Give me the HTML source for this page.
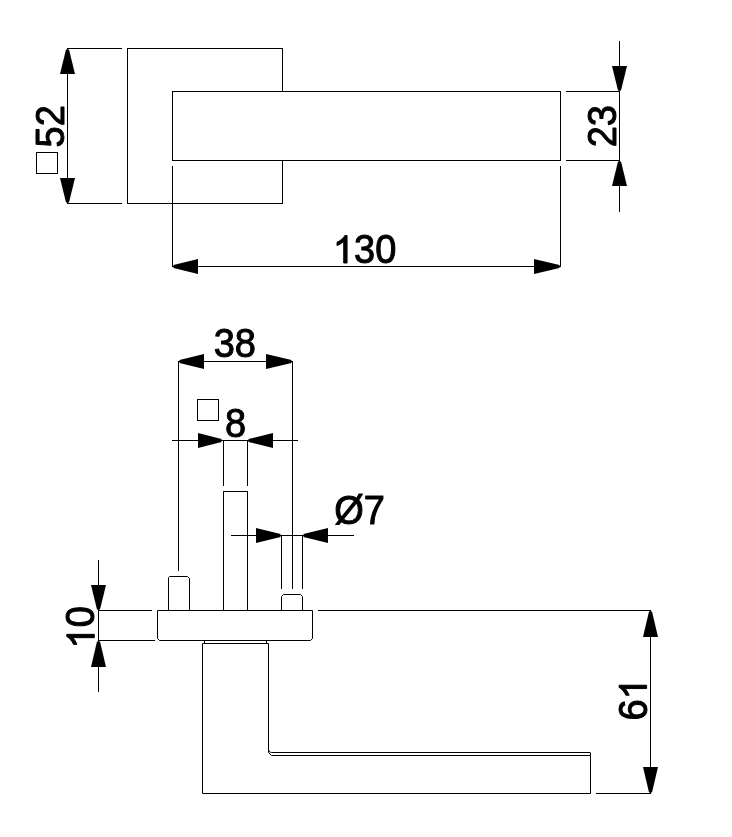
<!DOCTYPE html>
<html><head><meta charset="utf-8"><title>Door handle drawing</title><style>
html,body{margin:0;padding:0;background:#fff;overflow:hidden;}
svg{display:block;will-change:transform;}
svg path, svg rect{stroke:#000;stroke-width:1;fill:none;}
svg polygon.a{fill:#000;stroke:none;}
svg path.g{fill:#000;stroke:#000;stroke-width:1.0px;stroke-linejoin:round;}
svg tspan.h{fill:none;stroke:none;}
svg text{font-family:"Liberation Sans",sans-serif;font-size:40px;fill:#000;stroke:#000;stroke-width:1.0px;stroke-linejoin:round;}
</style></head><body>
<svg width="732" height="837" viewBox="0 0 732 837">
<defs></defs>
<path d="M127,48.5H283"/>
<path d="M127.5,48V204"/>
<path d="M127,203.5H283"/>
<path d="M282.5,48V92"/>
<path d="M282.5,160V204"/>
<rect x="172.5" y="91.5" width="388" height="69"/>
<path d="M67.5,48V204"/>
<path d="M67,48.5H122"/>
<path d="M67,203.5H122"/>
<polygon class="a" points="66,49.5 69,49.5 75,74 60,74"/>
<polygon class="a" points="66,202.5 69,202.5 75,178 60,178"/>
<path d="M619.5,41V212"/>
<path d="M566,91.5H620"/>
<path d="M566,160.5H620"/>
<polygon class="a" points="618,90.5 621,90.5 627,66 612,66"/>
<polygon class="a" points="618,161.5 621,161.5 627,186 612,186"/>
<path d="M172,266.5H561"/>
<path d="M172.5,166V267"/>
<path d="M560.5,166V267"/>
<polygon class="a" points="173.5,265 173.5,268 198,274 198,259"/>
<polygon class="a" points="559.5,265 559.5,268 534,274 534,259"/>
<path d="M178,361.5H293"/>
<path d="M178.5,361V571"/>
<path d="M292.5,361V589"/>
<polygon class="a" points="179.5,360 179.5,363 204,369 204,354"/>
<polygon class="a" points="291.5,360 291.5,363 266,369 266,354"/>
<path d="M172,440.5H298"/>
<path d="M223.5,440V486"/>
<path d="M247.5,440V486"/>
<polygon class="a" points="221.5,439 221.5,442 198,448 198,433"/>
<polygon class="a" points="248.5,439 248.5,442 273,448 273,433"/>
<path d="M223,491.5H248"/>
<path d="M223.5,491V611"/>
<path d="M247.5,491V611"/>
<path d="M168.5,610V577.5L169.5,576.5H187.5L189.5,578.5V610"/>
<path d="M281.5,610V596.5L283.5,594.5H300.5L302.5,596.5V610"/>
<path d="M281.5,535V589"/>
<path d="M302.5,535V589"/>
<path d="M231,535.5H354"/>
<polygon class="a" points="280.5,534 280.5,537 256,543 256,528"/>
<polygon class="a" points="303.5,534 303.5,537 328,543 328,528"/>
<path d="M157.5,610.5H312.5V638.5L310.5,640.5H159.5L157.5,638.5Z"/>
<path d="M98,610.5H152"/>
<path d="M318,610.5H651"/>
<path d="M98,640.5H155"/>
<path d="M98.5,560V692"/>
<polygon class="a" points="97,609.5 100,609.5 106,585 91,585"/>
<polygon class="a" points="97,641.5 100,641.5 106,667 91,667"/>
<path d="M204.5,640.5V643.5M266.5,640.5V643.5"/>
<path d="M268.5,643.5H202.5V793.5H590.5V752.5"/>
<path d="M268.5,643.5V752.5L271.5,755.5H590"/>
<path d="M268.5,749.5Q268.5,752.5 271.5,752.5H590"/>
<path d="M650.5,610V794"/>
<path d="M596,793.5H651"/>
<polygon class="a" points="649,611.5 652,611.5 658,637 643,637"/>
<polygon class="a" points="649,792.5 652,792.5 658,767 643,767"/>
<g transform="translate(332.90,263.00) scale(0.95,1)"><text id="t130" x="0" y="0"><tspan class="h">1</tspan>30</text><path class="g" d="M14.90,0.00L11.39,0.00L11.39,-21.48Q10.12,-20.31 8.05,-19.14Q5.98,-18.01 4.34,-17.42L4.34,-20.70Q7.29,-22.03 9.49,-23.93Q11.70,-25.82 12.62,-27.52L14.90,-27.52Z"/></g>
<g transform="translate(213.70,357.00) scale(0.95,1)"><text id="t38" x="0" y="0">38</text></g>
<g transform="translate(225.00,436.60) scale(0.95,1)"><text id="t8" x="0" y="0">8</text></g>
<g transform="translate(334.20,524.40) scale(0.95,1)"><text id="to7" x="0" y="0">Ø7</text></g>
<g transform="translate(63.60,147.40) rotate(-90) scale(0.95,1)"><text id="t52" x="0" y="0">52</text></g>
<g transform="translate(616.00,147.30) rotate(-90) scale(0.95,1)"><text id="t23" x="0" y="0">23</text></g>
<g transform="translate(94.30,648.50) rotate(-90) scale(0.95,1)"><text id="t10" x="0" y="0"><tspan class="h">1</tspan>0</text><path class="g" d="M14.90,0.00L11.39,0.00L11.39,-21.48Q10.12,-20.31 8.05,-19.14Q5.98,-18.01 4.34,-17.42L4.34,-20.70Q7.29,-22.03 9.49,-23.93Q11.70,-25.82 12.62,-27.52L14.90,-27.52Z"/></g>
<g transform="translate(646.60,720.50) rotate(-90) scale(0.95,1)"><text id="t61" x="0" y="0">6<tspan class="h">1</tspan></text><path class="g" d="M37.15,0.00L33.63,0.00L33.63,-21.48Q32.36,-20.31 30.29,-19.14Q28.22,-18.01 26.58,-17.42L26.58,-20.70Q29.53,-22.03 31.74,-23.93Q33.95,-25.82 34.86,-27.52L37.15,-27.52Z"/></g>
<rect x="197.5" y="399.5" width="21" height="21"/>
<rect x="36.5" y="152.5" width="21" height="21"/>
</svg>
</body></html>
